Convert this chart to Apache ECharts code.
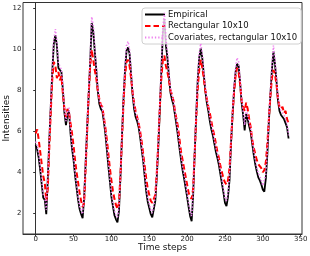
<!DOCTYPE html>
<html>
<head>
<meta charset="utf-8">
<script src="https://cdn.jsdelivr.net/npm/echarts@6/dist/echarts.min.js"></script>
<style>
html,body{margin:0;padding:0;background:#fff;}
#chart{width:310px;height:256px;}
</style>
</head>
<body>
<div id="chart"></div>
<script>
// Values sampled every 2 time steps (t = 0, 2, ..., 334)
const empirical = [
5.35,5.1,4.7,4.1,3.4,2.75,2.65,1.95,3.7,5.6,
7.3,9.0,10.3,10.7,10.2,9.1,9.05,8.9,8.0,6.9,
6.3,6.8,7.0,5.9,5.15,4.6,3.85,3.25,2.65,2.2,
1.95,1.75,2.75,4.5,6.2,7.8,9.4,11.3,10.9,9.95,
9.05,8.0,7.35,7.1,7.0,6.5,5.9,5.1,4.3,3.55,
2.8,2.35,1.9,1.7,1.55,2.1,3.8,5.8,7.6,9.0,
9.95,10.1,9.8,8.8,7.8,7.1,6.7,6.5,6.2,5.7,
5.1,4.55,3.8,3.05,2.55,2.25,1.95,1.8,1.85,2.6,
3.8,5.3,7.1,9.0,10.8,11.5,10.2,9.6,8.7,7.9,
7.55,7.3,6.8,6.3,5.75,5.15,4.6,4.1,3.7,3.25,
2.8,2.3,1.85,1.6,2.9,4.9,6.8,8.5,9.6,10.05,
9.6,8.8,8.0,7.4,7.0,6.5,6.1,5.8,5.4,5.0,
4.7,4.35,3.9,3.45,3.0,2.5,2.35,2.8,3.6,5.4,
6.8,8.0,8.9,9.3,9.2,8.4,7.4,6.8,6.05,6.85,
6.6,6.25,5.95,5.4,4.85,4.4,4.05,3.75,3.6,3.4,
3.15,3.05,3.7,4.9,6.5,7.8,9.0,9.9,9.3,8.5,
7.5,7.0,6.8,6.85,6.6,6.65,6.2,5.65
];
const rectangular = [
5.9,6.1,5.6,5.0,4.4,3.8,3.5,2.6,3.2,5.2,
7.0,8.6,9.4,9.2,8.6,8.9,8.5,8.7,7.8,7.1,
6.7,7.1,6.9,6.4,5.9,5.3,4.6,4.0,3.5,3.0,
2.6,2.3,2.5,4.2,6.0,7.8,9.2,10.0,9.5,9.0,
8.6,8.0,7.6,7.3,7.2,6.7,6.2,5.6,4.9,4.2,
3.6,3.1,2.7,2.4,2.2,2.5,3.9,5.6,7.4,8.7,
9.4,9.5,9.2,8.6,7.9,7.4,7.0,6.7,6.4,6.0,
5.5,4.9,4.3,3.7,3.2,2.9,2.6,2.5,2.5,2.9,
4.0,5.5,7.2,8.6,9.5,9.7,9.2,8.9,8.5,8.0,
7.8,7.5,7.0,6.6,6.2,5.6,5.0,4.6,4.2,3.8,
3.4,3.0,2.8,2.7,3.2,4.9,6.6,8.1,9.0,9.5,
9.1,8.6,8.0,7.6,7.2,6.9,6.5,6.1,5.8,5.4,
5.0,4.7,4.3,4.0,3.7,3.5,3.4,3.6,4.2,5.5,
6.8,7.9,8.7,9.1,8.9,8.3,7.5,7.2,7.0,7.4,
7.1,6.6,6.2,5.6,5.2,4.9,4.6,4.4,4.3,4.2,
4.0,4.1,4.5,5.4,6.6,7.7,8.6,9.0,8.8,8.3,
7.6,7.2,7.1,7.2,6.9,7.0,6.6,6.4
];
const covariates = [
5.5,5.3,4.9,4.3,3.6,2.9,2.8,2.15,3.8,5.7,
7.5,9.2,10.5,11.0,10.4,9.3,9.2,9.0,8.2,7.1,
6.5,7.0,7.2,6.1,5.3,4.8,4.0,3.4,2.8,2.35,
2.1,1.95,2.9,4.6,6.4,8.0,9.6,11.6,11.2,10.1,
9.2,8.2,7.5,7.3,7.15,6.7,6.1,5.3,4.5,3.7,
3.0,2.5,2.1,1.9,1.8,2.3,3.9,5.9,7.7,9.2,
10.2,10.4,10.0,9.0,8.0,7.3,6.9,6.7,6.4,5.9,
5.3,4.7,4.0,3.25,2.75,2.45,2.15,2.0,2.05,2.8,
3.9,5.5,7.4,9.3,11.1,11.8,10.5,9.9,8.9,8.1,
7.75,7.5,7.0,6.5,5.95,5.35,4.8,4.3,3.9,3.45,
3.0,2.5,2.05,1.85,3.0,5.0,7.0,8.7,9.8,10.3,
9.8,9.0,8.2,7.6,7.2,6.7,6.3,6.0,5.6,5.2,
4.9,4.55,4.1,3.65,3.2,2.75,2.6,3.0,3.8,5.5,
7.0,8.2,9.1,9.6,9.4,8.6,7.6,7.0,6.3,7.05,
6.8,6.45,6.15,5.6,5.05,4.6,4.25,3.95,3.8,3.6,
3.35,3.3,3.9,5.1,6.7,8.0,9.2,10.2,9.5,8.7,
7.7,7.2,7.0,7.05,6.8,6.85,6.4,5.8
];
const timeSteps = empirical.map((_, i) => i * 2);
const xTicks = [0, 50, 100, 150, 200, 250, 300, 350];
const yTicks = [2, 4, 6, 8, 10, 12];
const seriesNames = ['Empirical', 'Rectangular 10x10', 'Covariates, rectangular 10x10'];

const pair = arr => arr.map((v, i) => [timeSteps[i], v]);
const font = 'DejaVu Sans';

const chart = echarts.init(document.getElementById('chart'), null, {renderer: 'canvas'});
chart.setOption({
  animation: false,
  backgroundColor: '#fff',
  grid: {left: 23, right: 8, top: 2.5, bottom: 22, show: true, borderColor: '#333', borderWidth: 1, outerBoundsMode: 'none'},
  xAxis: {
    type: 'value', min: -16.75, max: 351.75,
    name: 'Time steps', nameLocation: 'middle', nameGap: 9, nameMoveOverlap: false,
    nameTextStyle: {fontFamily: font, fontSize: 9, color: '#111', verticalAlign: 'top'},
    axisLine: {show: true, lineStyle: {color: '#333', width: 1}},
    axisTick: {show: true, inside: false, length: 2.5, customValues: xTicks, lineStyle: {color: '#333'}},
    axisLabel: {customValues: xTicks, fontFamily: font, fontSize: 7, color: '#222', margin: 2},
    splitLine: {show: false}
  },
  yAxis: {
    type: 'value', min: 0.98, max: 12.3,
    name: 'Intensities', nameLocation: 'middle', nameGap: 12, nameRotate: 90, nameMoveOverlap: false,
    nameTextStyle: {fontFamily: font, fontSize: 9, color: '#111'},
    axisLine: {show: true, lineStyle: {color: '#333', width: 1}},
    axisTick: {show: true, inside: false, length: 2.5, customValues: yTicks, lineStyle: {color: '#333'}},
    axisLabel: {customValues: yTicks, fontFamily: font, fontSize: 7, color: '#222', margin: 1.5},
    splitLine: {show: false}
  },
  legend: {
    data: seriesNames,
    itemStyle: {opacity: 0},
    orient: 'vertical', left: 142, top: 8,
    backgroundColor: 'rgba(255,255,255,0.8)', borderColor: '#d0d0d0', borderWidth: 1, borderRadius: 3,
    padding: [2, 4, 2, 2], itemWidth: 20, itemHeight: 9, itemGap: 2.5,
    textStyle: {fontFamily: font, fontSize: 8.5, color: '#111', padding: [0, 0, 0, -2]}
  },
  series: [
    {name: seriesNames[0], type: 'line', data: pair(empirical), symbol: 'none',
     lineStyle: {color: '#000', width: 1.8}, itemStyle: {color: '#000'}, z: 2},
    {name: seriesNames[1], type: 'line', data: pair(rectangular), symbol: 'none',
     lineStyle: {color: '#ff0000', width: 2, type: [5.5, 3]}, itemStyle: {color: '#ff0000'}, z: 3},
    {name: seriesNames[2], type: 'line', data: pair(covariates), symbol: 'none',
     lineStyle: {color: '#ee82ee', width: 1.6, type: [1.3, 2]}, itemStyle: {color: '#ee82ee'}, z: 4}
  ]
});
</script>
</body>
</html>
